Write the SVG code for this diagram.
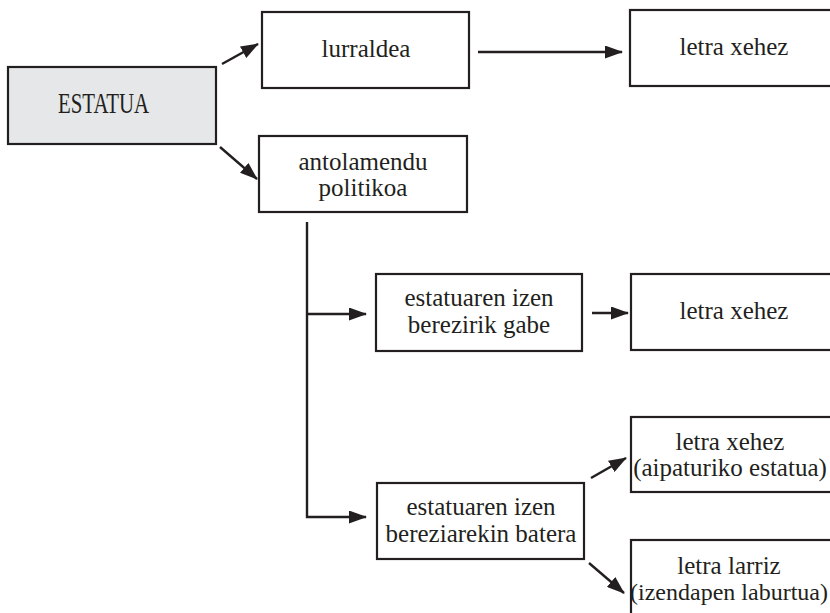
<svg xmlns="http://www.w3.org/2000/svg" width="830" height="613" viewBox="0 0 830 613">
<style>
.box{fill:#ffffff;stroke:#231f20;stroke-width:2.2}
.gray{fill:#e6e7e8}
.c{fill:none;stroke:#231f20;stroke-width:2.4}
text{font-family:"Liberation Serif","Tinos","Times New Roman","Times","Noto Serif","DejaVu Serif","FreeSerif",serif}
</style>
<defs>
<marker id="ah" markerUnits="userSpaceOnUse" markerWidth="18" markerHeight="13" refX="17" refY="6.5" orient="auto">
<path d="M0,0 L18,6.5 L0,13 Z" fill="#231f20"/>
</marker>
</defs>
<rect width="830" height="613" fill="#ffffff"/>
<g id="connectors">
<line class="c" x1="222" y1="64" x2="258" y2="44" marker-end="url(#ah)"/>
<line class="c" x1="220" y1="147" x2="257" y2="179" marker-end="url(#ah)"/>
<line class="c" x1="478" y1="52" x2="622" y2="52" marker-end="url(#ah)"/>
<polyline class="c" points="307,222 307,517 366,517" marker-end="url(#ah)"/>
<line class="c" x1="307" y1="314" x2="366" y2="314" marker-end="url(#ah)"/>
<line class="c" x1="592" y1="313" x2="628" y2="313" marker-end="url(#ah)"/>
<line class="c" x1="591" y1="478" x2="626" y2="458" marker-end="url(#ah)"/>
<line class="c" x1="589" y1="563" x2="624" y2="593" marker-end="url(#ah)"/>
</g>
<g font-size="25" fill="#231f20" text-anchor="middle">
<g id="estatua">
<rect class="box gray" x="8" y="67" width="208" height="77"/>
<text x="103.5" y="113" font-size="29" textLength="91" lengthAdjust="spacingAndGlyphs">ESTATUA</text>
</g>
<g id="lurraldea">
<rect class="box" x="262" y="12" width="207" height="76"/>
<text x="366" y="57">lurraldea</text>
</g>
<g id="letra-xehez-1">
<rect class="box" x="630" y="10" width="220" height="76"/>
<text x="734" y="55">letra xehez</text>
</g>
<g id="antolamendu">
<rect class="box" x="259" y="136" width="208" height="76"/>
<text x="363" y="170">antolamendu</text>
<text x="363" y="196">politikoa</text>
</g>
<g id="izen-gabe">
<rect class="box" x="376" y="274" width="206" height="77"/>
<text x="479" y="306">estatuaren izen</text>
<text x="479" y="333">berezirik gabe</text>
</g>
<g id="letra-xehez-2">
<rect class="box" x="631" y="274" width="220" height="76"/>
<text x="734" y="319">letra xehez</text>
</g>
<g id="izen-batera">
<rect class="box" x="377" y="483" width="207" height="76"/>
<text x="481" y="515">estatuaren izen</text>
<text x="481" y="542">bereziarekin batera</text>
</g>
<g id="letra-xehez-3">
<rect class="box" x="631" y="417" width="220" height="75"/>
<text x="730" y="450">letra xehez</text>
<text x="730" y="476">(aipaturiko estatua)</text>
</g>
<g id="letra-larriz">
<rect class="box" x="631" y="540" width="220" height="90"/>
<text x="729" y="574">letra larriz</text>
<text x="729" y="600" font-size="24">(izendapen laburtua)</text>
</g>
</g>
</svg>
